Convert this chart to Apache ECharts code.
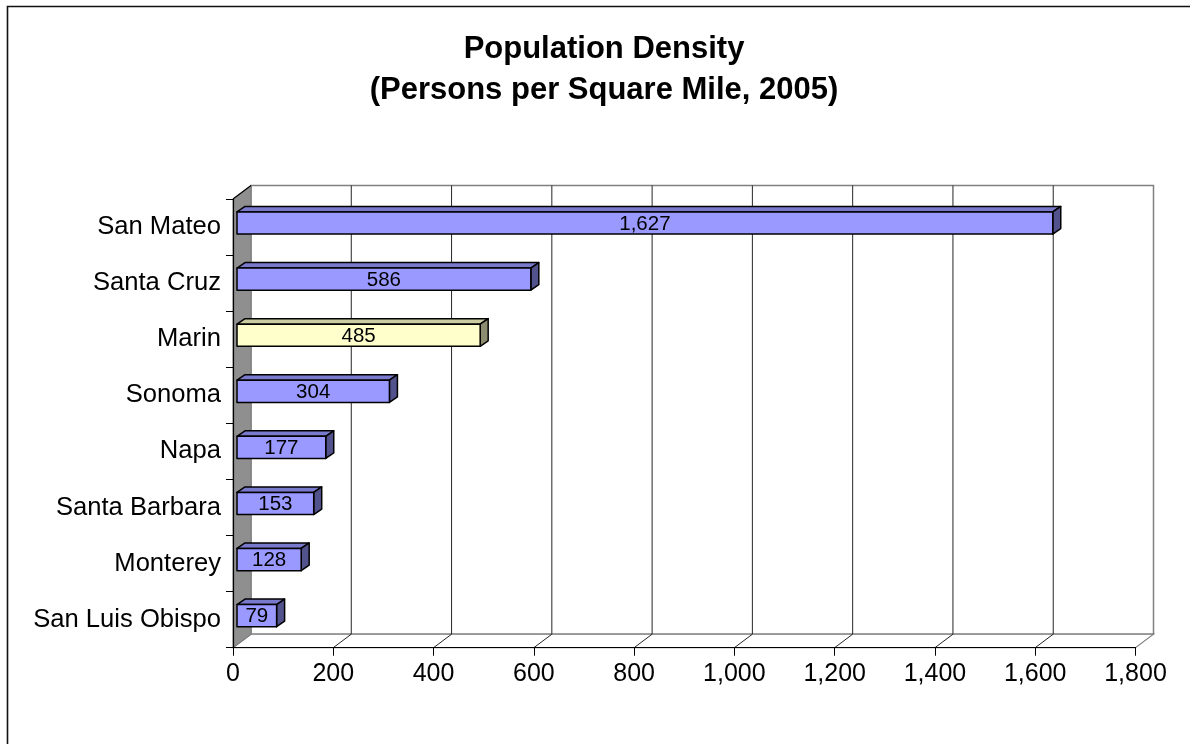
<!DOCTYPE html>
<html>
<head>
<meta charset="utf-8">
<script src="https://cdn.jsdelivr.net/npm/echarts@6/dist/echarts.min.js"></script>
<style>
  html, body { margin: 0; padding: 0; background: #ffffff; }
  #chart { width: 1190px; height: 744px; }
</style>
</head>
<body>
<div id="chart"></div>
<script>
// Counties, top to bottom
const categories = ['San Mateo', 'Santa Cruz', 'Marin', 'Sonoma', 'Napa', 'Santa Barbara', 'Monterey', 'San Luis Obispo'];
// Persons per square mile, 2005
const density = [1627, 586, 485, 304, 177, 153, 128, 79];
// County drawn in the accent colour
const accentCounty = 'Marin';
// Value axis ticks
const xTicks = [0, 200, 400, 600, 800, 1000, 1200, 1400, 1600, 1800];

const FONT = '"Liberation Sans", Arial, sans-serif';
// Depth of the box (back wall offset) and of each bar
const WALL_DX = 18, WALL_DY = -13.5;
const BAR_DX = 8, BAR_DY = -5.5;

const fmt = v => Number(v).toLocaleString('en-US');

function renderWalls(params, api) {
  const cs = params.coordSys;
  const l = cs.x, t = cs.y, r = cs.x + cs.width, b = cs.y + cs.height;
  return {
    type: 'group',
    children: [
      { type: 'rect', shape: { x: l + WALL_DX, y: t + WALL_DY, width: cs.width, height: cs.height },
        style: { fill: '#ffffff', stroke: '#808080', lineWidth: 1.5 } },
      { type: 'polygon', shape: { points: [[l, b], [r, b], [r + WALL_DX, b + WALL_DY], [l + WALL_DX, b + WALL_DY]] },
        style: { fill: '#ffffff', stroke: '#808080', lineWidth: 1.2 } },
      { type: 'polygon', shape: { points: [[l, t], [l + WALL_DX, t + WALL_DY], [l + WALL_DX, b + WALL_DY], [l, b]] },
        style: { fill: '#8f8f8f', stroke: '#7a7a7a', lineWidth: 1 } },
      { type: 'line', shape: { x1: l, y1: t, x2: l + WALL_DX, y2: t + WALL_DY },
        style: { stroke: '#000000', lineWidth: 1.2 } }
    ]
  };
}

function renderGridLine(params, api) {
  const cs = params.coordSys;
  const tick = api.value(0);
  if (tick <= xTicks[0] || tick >= xTicks[xTicks.length - 1]) return null;
  const x = api.coord([tick, 0])[0];
  const t = cs.y, b = cs.y + cs.height;
  return {
    type: 'group',
    children: [
      { type: 'line', shape: { x1: x + WALL_DX, y1: t + WALL_DY, x2: x + WALL_DX, y2: b + WALL_DY },
        style: { stroke: '#262626', lineWidth: 1 } },
      { type: 'line', shape: { x1: x, y1: b, x2: x + WALL_DX, y2: b + WALL_DY },
        style: { stroke: '#262626', lineWidth: 1 } }
    ]
  };
}

function renderBar(params, api) {
  const v = api.value(0);
  const idx = api.value(1);
  const start = api.coord([0, idx]);
  const end = api.coord([v, idx]);
  const band = api.size([0, 1])[1];
  const h = band * 0.395;
  const yc = start[1] - 4;
  const top = yc - h / 2;
  const x0 = start[0] + 4, x1 = end[0] + 4;
  const accent = categories[idx] === accentCounty;
  const front = accent ? '#ffffcc' : '#9999ff';
  const topC = accent ? '#cccca3' : '#7a7acc';
  const side = accent ? '#8c8c70' : '#52528c';
  const stroke = { stroke: '#000000', lineWidth: 1.5, lineJoin: 'round' };
  return {
    type: 'group',
    children: [
      { type: 'polygon', shape: { points: [[x0, top], [x0 + BAR_DX, top + BAR_DY], [x1 + BAR_DX, top + BAR_DY], [x1, top]] },
        style: Object.assign({ fill: topC }, stroke) },
      { type: 'polygon', shape: { points: [[x1, top], [x1 + BAR_DX, top + BAR_DY], [x1 + BAR_DX, top + h + BAR_DY], [x1, top + h]] },
        style: Object.assign({ fill: side }, stroke) },
      { type: 'rect', shape: { x: x0, y: top, width: x1 - x0, height: h },
        style: Object.assign({ fill: front }, stroke) },
      { type: 'text', x: (x0 + x1) / 2, y: yc + 1,
        style: { text: fmt(v), fill: '#000000', font: '20.5px ' + FONT, align: 'center', verticalAlign: 'middle' } }
    ]
  };
}

const chart = echarts.init(document.getElementById('chart'), null, { renderer: 'canvas' });
chart.setOption({
  backgroundColor: '#ffffff',
  animation: false,
  title: {
    text: 'Population Density\n(Persons per Square Mile, 2005)',
    left: 599,
    textAlign: 'center',
    top: 24,
    textStyle: { fontFamily: FONT, fontSize: 31, fontWeight: 'bold', color: '#000000', lineHeight: 41 }
  },
  graphic: [{
    type: 'rect', left: 5, top: 4, z: 100,
    shape: { width: 1220, height: 780 },
    style: { fill: null, stroke: '#111111', lineWidth: 1.6 }
  }],
  grid: { left: 233, right: 54.5, top: 199, bottom: 96.3, containLabel: false },
  xAxis: {
    type: 'value',
    min: xTicks[0],
    max: xTicks[xTicks.length - 1],
    interval: xTicks[1] - xTicks[0],
    z: 10,
    splitLine: { show: false },
    axisLine: { show: true, lineStyle: { color: '#000000', width: 1.2 } },
    axisTick: { show: true, length: 8, lineStyle: { color: '#000000' } },
    axisLabel: { fontFamily: FONT, fontSize: 25, color: '#000000', margin: 14, formatter: v => fmt(v) }
  },
  yAxis: {
    type: 'category',
    data: categories,
    inverse: true,
    z: 10,
    axisLine: { show: true, lineStyle: { color: '#000000', width: 1.2 } },
    axisTick: { show: true, length: 7, lineStyle: { color: '#000000' } },
    axisLabel: { fontFamily: FONT, fontSize: 25.6, color: '#000000', margin: 12, padding: [0, 0, 3, 0] },
    splitLine: { show: false }
  },
  series: [
    { type: 'custom', name: 'walls', z: 1, silent: true, renderItem: renderWalls, data: [[0, 0]], encode: { x: 0, y: 1 } },
    { type: 'custom', name: 'gridlines', z: 2, silent: true, renderItem: renderGridLine,
      data: xTicks.map(t => [t, 0]), encode: { x: 0, y: 1 } },
    { type: 'custom', name: 'density', z: 3, renderItem: renderBar,
      data: density.map((v, i) => [v, i]), encode: { x: 0, y: 1 } }
  ]
});
</script>
</body>
</html>
